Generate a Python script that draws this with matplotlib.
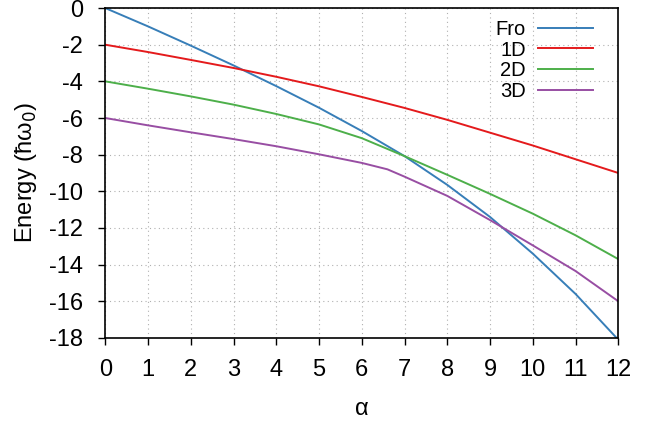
import matplotlib
matplotlib.use('Agg')
from matplotlib import pyplot as plt

plt.rcParams['font.family'] = ['Liberation Sans', 'DejaVu Sans']

# energies (units of hbar*omega_0)
alpha = [0, 1, 2, 3, 4, 5, 6, 7, 8, 9, 10, 11, 12]
fro = [0.0, -1.0, -2.05, -3.13, -4.26, -5.44, -6.71, -8.08, -9.65, -11.4, -13.4, -15.6, -18.1]
e1d = [-2.0, -2.4, -2.83, -3.27, -3.75, -4.27, -4.85, -5.45, -6.1, -6.8, -7.5, -8.25, -9.0]
e2d = [-4.0, -4.4, -4.82, -5.27, -5.78, -6.35, -7.1, -8.08, -9.1, -10.14, -11.22, -12.4, -13.7]
alpha3 = [0, 1, 2, 3, 4, 5, 6, 6.6, 7, 8, 9, 10, 11, 12]
e3d = [-6.0, -6.4, -6.78, -7.15, -7.54, -7.98, -8.45, -8.8, -9.2, -10.25, -11.57, -12.95, -14.35, -16.0]

xticks = list(range(0, 13))
yticks = list(range(-18, 1, 2))

fig = plt.figure(figsize=(6.62, 4.24), dpi=100)
ax = fig.add_axes([0.159, 0.203, 0.775, 0.778])

ax.plot(alpha, fro, color='#377eb8', lw=1.4, label='Fro')
ax.plot(alpha, e1d, color='#e41a1c', lw=1.4, label='1D')
ax.plot(alpha, e2d, color='#4daf4a', lw=1.4, label='2D')
ax.plot(alpha3, e3d, color='#984ea3', lw=1.4, label='3D')

ax.set_xlim(0, 12)
ax.set_ylim(-18, 0)
ax.set_xticks(xticks)
ax.set_yticks(yticks)
ax.set_yticklabels([str(t) for t in yticks])
ax.tick_params(direction='out', length=5, width=1, labelsize=17)
ax.tick_params(axis='x', pad=10.5)
ax.tick_params(axis='y', pad=11)
for s in ax.spines.values():
    s.set_linewidth(1.2)
ax.grid(True, ls=(0, (1, 3)), color='#b0b0b0', lw=0.8)

ax.set_xlabel('α', fontsize=17, labelpad=12)
ax.set_ylabel('Energy (ħω$_0$)', fontsize=17)
ax.yaxis.set_label_coords(-0.129, 0.5)

ax.legend(loc='upper right', bbox_to_anchor=(0.951, 0.964), frameon=False,
          markerfirst=False, handlelength=2.73, labelspacing=0.08,
          fontsize=14.5, borderaxespad=0, borderpad=0, handletextpad=0.6)

fig.savefig('out.png', dpi=100)
